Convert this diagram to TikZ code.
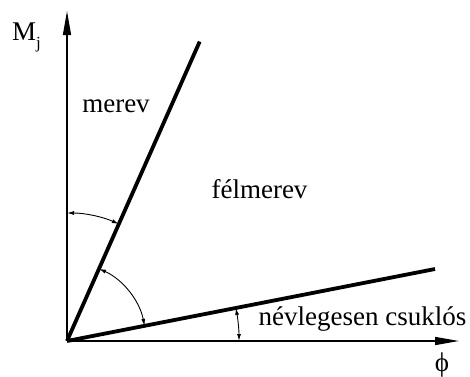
\documentclass[tikz,border=0pt]{standalone}
\usepackage{fontspec}
\setmainfont{Liberation Serif}
\usetikzlibrary{arrows.meta}
\newcommand{\txt}[0]{\fontsize{27}{30}\selectfont}
\newcommand{\angarc}[3]{\draw[arcarr] ([shift={(#1:#3)}]O) arc[start angle=#1,end angle=#2,radius=#3 pt]}

\begin{document}
\begin{tikzpicture}[x=1pt,y=1pt,
	epais/.style={line width=3.8pt},
	axis/.style={line width=1.4pt,-{Triangle[length=24pt,width=8pt]}},
	arcarr/.style={line width=0.9pt,{Latex[length=7pt,width=4pt]}-{Latex[length=7pt,width=4pt]}},
	lbl/.style={inner sep=0pt,anchor=base,font=\txt}]
\useasboundingbox (0,0) rectangle (470,376);
\coordinate (O) at (67,35);
%Axes
	\draw[axis] (O) -- (67,365) coordinate (ytip);
	\draw[axis] (O) -- (459,35) coordinate (xtip);
%Lines
	\draw[epais] (O) -- ([shift={(66.1:327.5)}]O) coordinate (steep);
	\draw[epais] (O) -- ([shift={(11.07:375)}]O) coordinate (shallow);
%Angles
	\angarc{90}{66.1}{128};
	\angarc{66.1}{11.07}{79};
	\angarc{11.07}{0}{172};
%Labels
	\node[lbl,anchor=base west] (mj) at (12,336) {M\raisebox{-0.3em}{\fontsize{17}{17}\selectfont j}};
	\node[lbl] (merev) at (116,264) {merev};
	\node[lbl] (felmerev) at (259.5,178) {félmerev};
	\node[lbl] (nevleg) at (362.5,51) {névlegesen csuklós};
	\node[inner sep=0pt,font=\txt] (phi) at (442,11) {ϕ};
\end{tikzpicture}
\end{document}
